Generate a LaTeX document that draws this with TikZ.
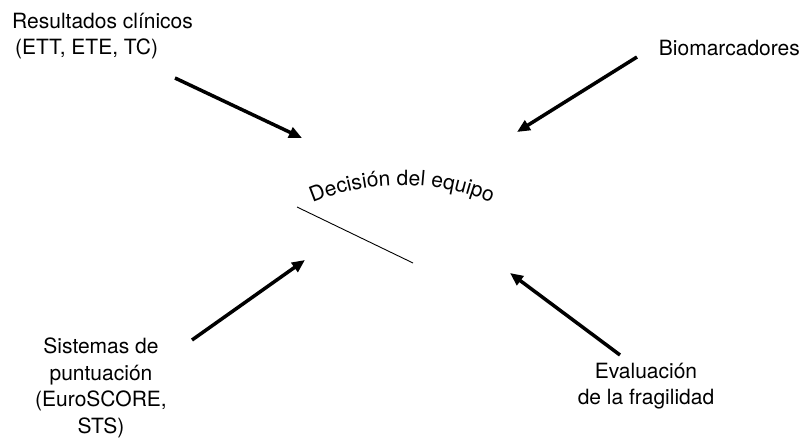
\documentclass[tikz,border=0pt]{standalone}
\usepackage{fontspec}
\setmainfont{TeX Gyre Heros}
\usetikzlibrary{arrows.meta, decorations.text}

\begin{document}
\begin{tikzpicture}[x=1pt, y=1pt,
  every node/.style={font=\fontsize{21}{26.5}\selectfont, inner sep=0pt},
  feed/.style={line width=3.5pt, -{Triangle[length=13pt, width=11pt]}}]
  \useasboundingbox (0,0) rectangle (804,-438);
  % radius of the team arc
  \def\rad{231}
  % inputs
  \node[anchor=west, align=left] (res) at (12,-36) {Resultados clínicos\\\hspace{3pt}(ETT, ETE, TC)};
  \node[anchor=east] (bio) at (800,-48) {Biomarcadores};
  \node[align=center] (sis) at (101,-388) {Sistemas de\\puntuación\\(EuroSCORE,\\STS)};
  \node[align=center] (fra) at (646,-386) {Evaluación\\de la fragilidad};
  % arrow ends
  \coordinate (res-a) at (175,-78);
  \coordinate (res-b) at (302,-138);
  \coordinate (bio-a) at (637,-57);
  \coordinate (bio-b) at (517,-132);
  \coordinate (sis-a) at (192,-340);
  \coordinate (sis-b) at (305,-260);
  \coordinate (fra-a) at (620,-355);
  \coordinate (fra-b) at (510,-273);
  % arrows
  \draw[feed] (res-a) -- (res-b);
  \draw[feed] (bio-a) -- (bio-b);
  \draw[feed] (sis-a) -- (sis-b);
  \draw[feed] (fra-a) -- (fra-b);
  % centre
  \coordinate (arc-a) at (311.7,-203.4);
  \path[decorate, decoration={text along path, text align=center,
    text={|\fontsize{21}{26}\selectfont|Decisión del equipo}}]
    (arc-a) arc[start angle=113, end angle=67, radius=\rad];
  \coordinate (cut-a) at (297,-207);
  \coordinate (cut-b) at (413,-263);
  \draw[line width=0.9pt] (cut-a) -- (cut-b);
\end{tikzpicture}
\end{document}
